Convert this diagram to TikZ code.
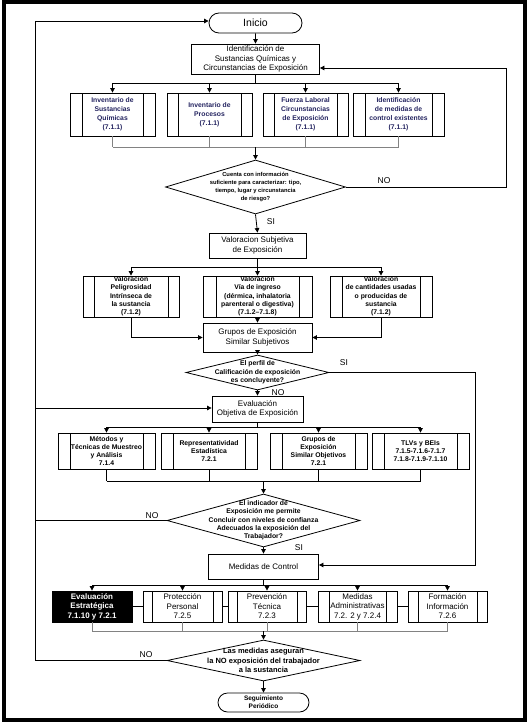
\documentclass[tikz,border=0pt]{standalone}
\usepackage{fontspec}
\setmainfont{Liberation Sans}
\usetikzlibrary{arrows.meta,shapes.geometric,shapes.misc}
\definecolor{navy}{RGB}{35,35,95}
\definecolor{jgray}{RGB}{130,130,130}
\begin{document}
\begin{tikzpicture}[x=1pt,y=-1pt,
  ln/.style={line width=0.8pt},
  arr/.style={line width=0.8pt,-{Triangle[length=4.5pt,width=4.5pt]}},
  jn/.style={line width=0.8pt,draw=jgray},
  box/.style={draw,line width=0.8pt,rectangle,inner sep=0pt,align=center},
  pbox/.style={box,path picture={
     \draw[line width=0.7pt] ([xshift=#1]path picture bounding box.north west) -- ([xshift=#1]path picture bounding box.south west);
     \draw[line width=0.7pt] ([xshift=-#1]path picture bounding box.north east) -- ([xshift=-#1]path picture bounding box.south east);}},
  term/.style={draw,line width=0.8pt,rounded rectangle,inner sep=0pt,align=center},
  dia/.style={draw,line width=0.8pt,diamond,inner sep=0pt},
  dtext/.style={align=center,inner sep=0pt},
  fmain/.style={font=\fontsize{8}{9.5}\selectfont},
  frow/.style={font=\fontsize{6.8}{8.3}\selectfont\bfseries},
  frowone/.style={font=\fontsize{6.8}{9}\selectfont\bfseries,text=navy},
  ffour/.style={font=\fontsize{8}{9.5}\selectfont},
  lbl/.style={font=\fontsize{8.5}{10}\selectfont,inner sep=0pt}
]
\useasboundingbox (0,0) rectangle (531,725);
\draw[line width=4pt] (4,2.5) rectangle (525,719.5);

% --- top
\node[term,minimum width=93,minimum height=20,font=\fontsize{10.5}{12}\selectfont] (inicio) at (255.5,23) {Inicio};
\node[box,fmain,minimum width=128,minimum height=30] (ident) at (255.5,59) {Identificación de\\Sustancias Químicas y\\Circunstancias de Exposición};

\node[pbox=12pt,frowone,minimum width=85,minimum height=43] (r1a) at (112.5,114.5) {Inventario de\\Sustancias\\Químicas\\(7.1.1)};
\node[pbox=11pt,frowone,minimum width=85,minimum height=43] (r1b) at (209.5,114.5) {Inventario de\\Procesos\\(7.1.1)};
\node[pbox=11pt,frowone,minimum width=85,minimum height=43] (r1c) at (305.5,114.5) {Fuerza Laboral\\Circunstancias\\de Exposición\\(7.1.1)};
\node[pbox=12pt,frowone,minimum width=91,minimum height=43] (r1d) at (398.5,114.5) {Identificación\\de medidas de\\control existentes\\(7.1.1)};

\node[dia,minimum width=180,minimum height=54] (d1) at (255.5,187) {};
\node[dtext,font=\fontsize{5.8}{7.7}\selectfont\bfseries] at (d1) {Cuenta con información\\suficiente para caracterizar: tipo,\\tiempo, lugar y circunstancia\\de riesgo?};

\node[box,fmain,minimum width=97,minimum height=25] (vsub) at (257.5,245.5) {Valoracion Subjetiva\\de Exposición};

\node[pbox=11pt,frow,minimum width=96,minimum height=41] (r2a) at (131,296.5) {Valoración\\Peligrosidad\\Intrínseca de\\la sustancia\\(7.1.2)};
\node[pbox=13pt,frow,minimum width=109,minimum height=41] (r2b) at (257.5,296.5) {Valoración\\Vía de ingreso\\(dérmica, inhalatoria\\parenteral o digestiva)\\(7.1.2--7.1.8)};
\node[pbox=12pt,frow,minimum width=102,minimum height=41] (r2c) at (381,296.5) {Valoración\\de cantidades usadas\\o producidas de\\sustancia\\(7.1.2)};

\node[box,fmain,minimum width=109,minimum height=29] (gsub) at (257.5,337.5) {Grupos de Exposición\\Similar Subjetivos};

\node[dia,minimum width=143,minimum height=35] (d2) at (257.5,372.5) {};
\node[dtext,frow] at (d2) {El perfil de\\Calificación de exposición\\es concluyente?};

\node[box,fmain,minimum width=91,minimum height=26] (eval) at (257.5,409) {Evaluación\\Objetiva de Exposición};

\node[pbox=12pt,frow,minimum width=97,minimum height=36] (r3a) at (106.5,451) {Métodos y\\Técnicas de Muestreo\\y Análisis\\7.1.4};
\node[pbox=12pt,frow,minimum width=96,minimum height=36] (r3b) at (209,451) {Representatividad\\Estadística\\7.2.1};
\node[pbox=12pt,frow,minimum width=97,minimum height=36] (r3c) at (318.5,451) {Grupos de\\Exposición\\Similar Objetivos\\7.2.1};
\node[pbox=12pt,frow,minimum width=97,minimum height=36] (r3d) at (420.5,451) {TLVs y BEIs\\7.1.5-7.1.6-7.1.7\\7.1.8-7.1.9-7.1.10};

\node[dia,minimum width=193,minimum height=53] (d3) at (263.5,520.5) {};
\node[dtext,frow] at (d3) {El indicador de\\Exposición me permite\\Concluir con niveles de confianza\\Adecuados la exposición del\\Trabajador?};

\node[box,fmain,minimum width=110,minimum height=25] (med) at (263.5,566.5) {Medidas de Control};

\node[box,fill=black,text=white,font=\fontsize{8}{9.5}\selectfont\bfseries,minimum width=80,minimum height=31] (r4a) at (92,606.5) {Evaluación\\Estratégica\\7.1.10 y 7.2.1};
\node[pbox=9pt,ffour,minimum width=79,minimum height=31] (r4b) at (182.5,606.5) {Protección\\Personal\\7.2.5};
\node[pbox=9pt,ffour,minimum width=78,minimum height=31] (r4c) at (267,606.5) {Prevención\\Técnica\\7.2.3};
\node[pbox=11pt,ffour,minimum width=79,minimum height=31] (r4d) at (357.5,606.5) {Medidas\\Administrativas\\7.2. 2 y 7.2.4};
\node[pbox=10pt,ffour,minimum width=79,minimum height=31] (r4e) at (447.5,606.5) {Formación\\Información\\7.2.6};

\node[dia,minimum width=193,minimum height=41] (d4) at (263.5,660.5) {};
\node[dtext,font=\fontsize{7.5}{9.5}\selectfont\bfseries] at (d4) {Las medidas aseguran\\la NO exposición del trabajador\\a la sustancia};

\node[term,minimum width=91,minimum height=19,font=\fontsize{6.5}{8}\selectfont\bfseries] (seg) at (263.5,702.5) {Seguimiento\\Periódico};

% --- connectors
\draw[arr] (inicio) -- (ident);
\draw[ln] (ident.south) -- ++(0,9) coordinate (b1);
\draw[ln] (b1 -| r1a) -- (b1 -| r1d);
\foreach \n in {r1a,r1b,r1c,r1d} \draw[arr] (b1 -| \n) -- (\n.north);
\coordinate (j1) at (255.5,147);
\foreach \n in {r1a,r1b,r1c,r1d} \draw[jn] (\n.south) -- (j1 -| \n);
\draw[jn] (j1 -| r1a) -- (j1 -| r1d);
\draw[arr] (j1) -- (d1.north);

\coordinate (rno) at (506,68);
\draw[arr] (d1.east) -| (rno) -- (rno -| ident.east);
\node[lbl] at (384,181) {NO};

\draw[arr] (d1.south) -- (vsub.north);
\node[lbl] at (271,222) {SI};

\draw[ln] (vsub.south) -- ++(0,9) coordinate (b2);
\draw[ln] (b2 -| r2a) -- (b2 -| r2c);
\foreach \n in {r2a,r2b,r2c} \draw[arr] (b2 -| \n) -- (\n.north);

\draw[arr] (r2b.south) -- (gsub.north);
\draw[arr] (r2a.south) |- (gsub.west);
\draw[arr] (r2c.south) |- (gsub.east);
\draw[arr] (gsub.south) -- (d2.north);

\coordinate (rsi) at (475,565);
\draw[arr] (d2.east) -| (rsi) -- (rsi -| med.east);
\node[lbl] at (344,363) {SI};
\draw[arr] (d2.south) -- (eval.north);
\node[lbl] at (278,393) {NO};

\draw[ln] (eval.south) -- ++(0,5) coordinate (b3);
\draw[ln] (b3 -| r3a) -- (b3 -| r3d);
\foreach \n in {r3a,r3b,r3c,r3d} \draw[arr] (b3 -| \n) -- (\n.north);
\coordinate (j3) at (263.5,481);
\foreach \n in {r3a,r3b,r3c,r3d} \draw[ln] (\n.south) -- (j3 -| \n);
\draw[ln] (j3 -| r3a) -- (j3 -| r3d);
\draw[arr] (j3) -- (d3.north);

\coordinate (lno3) at (35,408);
\draw[arr] (d3.west) -| (lno3) -- (lno3 -| eval.west);
\node[lbl] at (152,516) {NO};
\draw[arr] (d3.south) -- (med.north);
\node[lbl] at (299,548) {SI};

\draw[ln] (med.south) -- ++(0,6) coordinate (b4);
\draw[ln] (b4 -| r4a) -- (b4 -| r4e);
\foreach \n in {r4a,r4b,r4c,r4d,r4e} \draw[arr] (b4 -| \n) -- (\n.north);
\draw[ln] (r4a.east) -- (r4b.west);
\draw[ln] (r4b.east) -- (r4c.west);
\draw[ln] (r4c.east) -- (r4d.west);
\draw[ln] (r4d.east) -- (r4e.west);
\coordinate (j4) at (263.5,631);
\foreach \n in {r4a,r4b,r4c,r4d,r4e} \draw[jn] (\n.south) -- (j4 -| \n);
\draw[jn] (j4 -| r4a) -- (j4 -| r4e);
\draw[arr] (j4) -- (d4.north);

\coordinate (lno4) at (35,21);
\draw[arr] (d4.west) -| (lno4) -- (lno4 -| inicio.west);
\node[lbl] at (146,655) {NO};
\draw[arr] (d4.south) -- (seg.north);
\end{tikzpicture}
\end{document}
